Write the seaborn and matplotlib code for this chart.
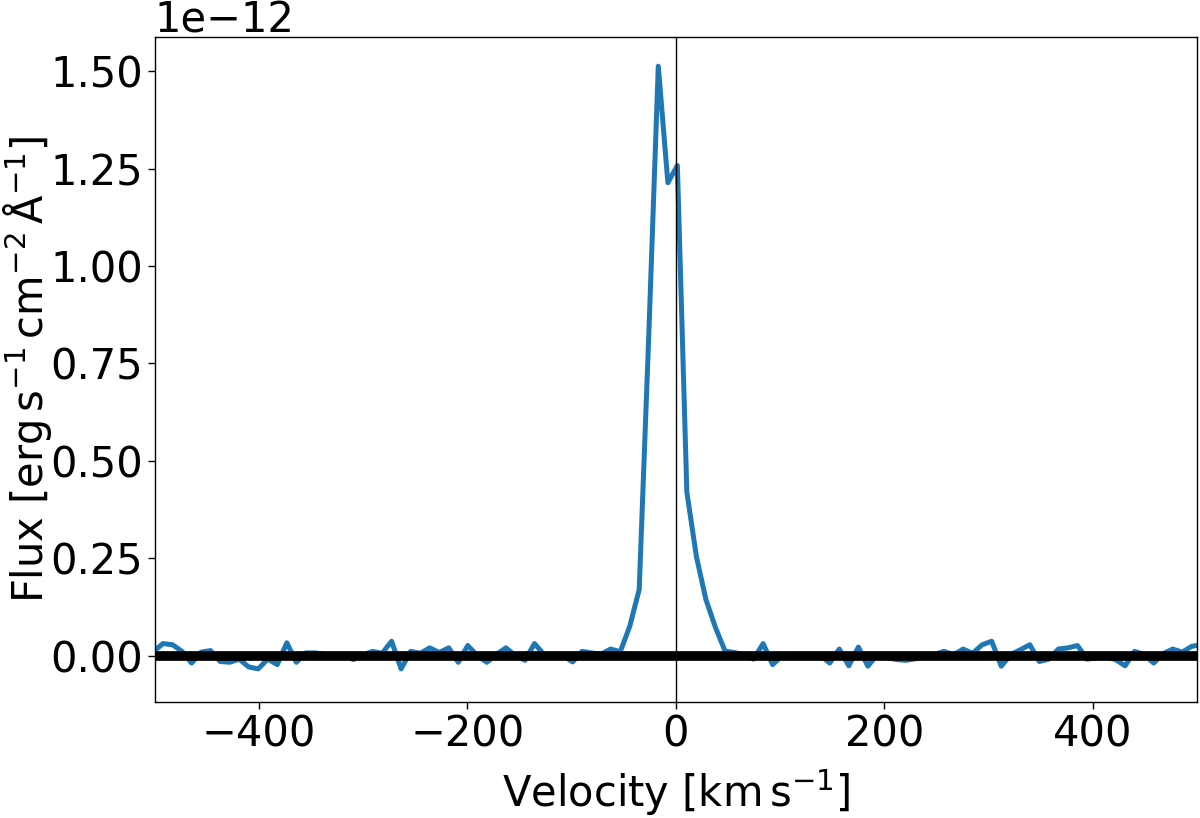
import numpy as np
import pandas as pd
import seaborn as sns
import matplotlib
matplotlib.use('Agg')
import matplotlib.pyplot as plt

# channel velocities (km/s)
velocity = [
    -501.3, -492.2, -483.0, -473.9, -464.7, -455.6, -446.5, -437.3, -428.2, -419.0,
    -409.9, -400.8, -391.6, -382.5, -373.3, -364.2, -355.1, -345.9, -336.8, -327.6,
    -318.5, -309.4, -300.2, -291.1, -281.9, -272.8, -263.7, -254.5, -245.4, -236.2,
    -227.1, -218.0, -208.8, -199.7, -190.5, -181.4, -172.3, -163.1, -154.0, -144.8,
    -135.7, -126.6, -117.4, -108.3, -99.1, -90.0, -80.9, -71.7, -62.6, -53.4,
    -44.3, -35.2, -26.0, -16.9, -7.7, 1.4, 10.5, 19.7, 28.8, 38.0,
    47.1, 56.2, 65.4, 74.5, 83.7, 92.8, 101.9, 111.1, 120.2, 129.4,
    138.5, 147.6, 156.8, 165.9, 175.1, 184.2, 193.3, 202.5, 211.6, 220.8,
    229.9, 239.0, 248.2, 257.3, 266.5, 275.6, 284.7, 293.9, 303.0, 312.2,
    321.3, 330.4, 339.6, 348.7, 357.9, 367.0, 376.1, 385.3, 394.4, 403.6,
    412.7, 421.8, 431.0, 440.1, 449.3, 458.4, 467.5, 476.7, 485.8, 495.0,
    504.1,
]

# flux in units of 1e-12 erg/s/cm2/A
flux_e12 = [
    0.010, 0.031, 0.028, 0.011, -0.019, 0.009, 0.013, -0.015, -0.017, -0.009,
    -0.029, -0.034, -0.009, -0.023, 0.033, -0.017, 0.007, 0.007, 0.003, -0.003,
    0.000, -0.010, 0.002, 0.011, 0.006, 0.037, -0.034, 0.011, 0.006, 0.020,
    0.008, 0.020, -0.017, 0.026, 0.000, -0.017, 0.003, 0.020, 0.000, -0.012,
    0.031, 0.003, 0.000, 0.000, -0.016, 0.011, 0.007, 0.004, 0.017, 0.010,
    0.075, 0.170, 0.825, 1.513, 1.214, 1.258, 0.420, 0.254, 0.144, 0.072,
    0.012, 0.008, 0.002, -0.009, 0.031, -0.023, 0.000, -0.003, 0.002, -0.002,
    0.001, -0.019, 0.017, -0.026, 0.022, -0.027, 0.003, -0.005, -0.010, -0.012,
    -0.008, -0.003, 0.003, 0.011, 0.002, 0.017, 0.006, 0.028, 0.037, -0.027,
    0.003, 0.015, 0.028, -0.015, -0.009, 0.017, 0.020, 0.026, -0.009, -0.006,
    -0.004, -0.010, -0.026, 0.011, 0.003, -0.019, 0.005, 0.017, 0.009, 0.024,
    0.028,
]

df = pd.DataFrame({'velocity': velocity, 'flux': np.array(flux_e12) * 1e-12})

sns.set_theme(style='ticks', rc={
    'axes.edgecolor': 'black', 'text.color': 'black', 'axes.labelcolor': 'black',
    'xtick.color': 'black', 'ytick.color': 'black', 'axes.linewidth': 1.0,
})
plt.rcParams['font.family'] = ['DejaVu Sans']
plt.rcParams['mathtext.fontset'] = 'dejavusans'

fig = plt.figure(figsize=(12, 8.18), dpi=100)
ax = fig.add_axes([0.129, 0.1418, 0.8685, 0.813])

sns.lineplot(data=df, x='velocity', y='flux', ax=ax, color='#1f77b4', linewidth=3.6)
ax.axhline(0, color='black', linewidth=7)
ax.axvline(0, color='black', linewidth=1)

ax.set_xlim(-500, 500)
ax.set_ylim(-0.119e-12, 1.588e-12)
ax.set_yticks([0, 0.25e-12, 0.5e-12, 0.75e-12, 1.0e-12, 1.25e-12, 1.5e-12])
ax.set_xlabel(r'Velocity [$\mathrm{km\,s^{-1}}$]', fontsize=30, labelpad=8)
ax.set_ylabel(r'Flux [$\mathrm{erg\,s^{-1}\,cm^{-2}\,\AA^{-1}}$]', fontsize=30, labelpad=-3)
ax.tick_params(labelsize=30, length=5, width=1)
ax.yaxis.get_offset_text().set_fontsize(30)
for s in ax.spines.values():
    s.set_visible(True)

fig.savefig('out.png', dpi=100)
